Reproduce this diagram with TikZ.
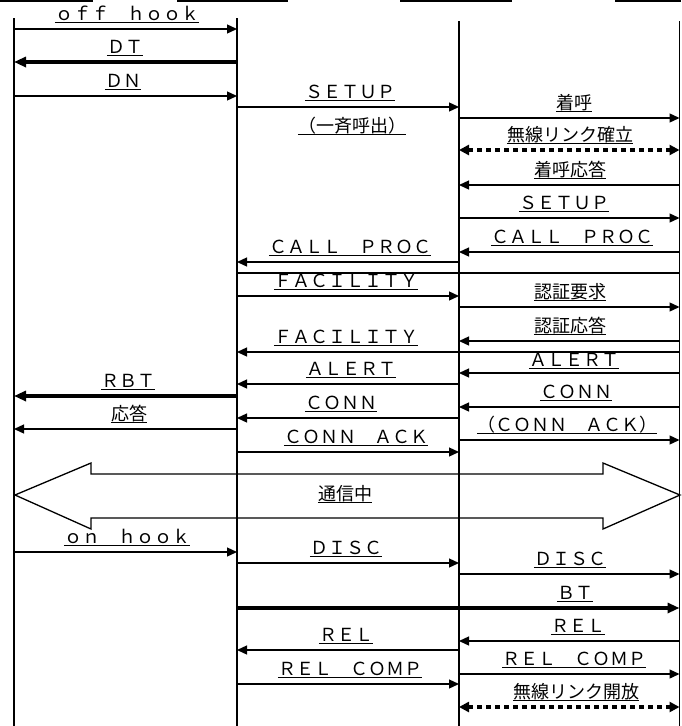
\documentclass[tikz,border=0pt]{standalone}
\usepackage{fontspec}
\newfontfamily\jpfont{Noto Sans CJK JP}
\usetikzlibrary{arrows.meta}
\newcommand\labfont{\jpfont\fontsize{18}{20}\selectfont}
\tikzset{
  life/.style={line width=1.3pt},
  ul/.style={draw,line width=0.9pt,-},
  lab/.style={inner sep=0pt, anchor=base, font=\labfont,
    append after command={\pgfextra{\let\LabNode\tikzlastnode}
      ([yshift=-2.3pt]\LabNode.base west) edge[ul] ([yshift=-2.3pt]\LabNode.base east)}},
  ar/.style={line width=1.3pt, -{Triangle[length=10pt,width=9pt]}},
  thk/.style={line width=3.5pt, -{Triangle[length=12pt,width=10pt]}},
  dotsar/.style={line width=3.8pt, dash pattern=on 5pt off 4pt,
    {Triangle[length=10pt,width=10pt]}-{Triangle[length=10pt,width=10pt]}},
  plain/.style={line width=1.3pt},
  bigar/.style={line width=1.3pt, line join=miter},
}
% #1 name, #2 from, #3 to, #4 y, #5 style, #6 label x, #7 text
\newcommand\Msg[7]{%
  \draw[#5] (#2 |- 0,#4) -- (#3 |- 0,#4);
  \node[lab] (#1) at (#6,#4-8.5) {#7};
}
\begin{document}
\begin{tikzpicture}[x=1pt,y=-1pt]
\useasboundingbox (0,0) rectangle (681,726);
% header underlines (header text cut off)
\draw[plain] (0,1) -- (93,1);
\draw[plain] (177,1) -- (288,1);
\draw[plain] (400,1) -- (512,1);
\draw[plain] (615,1) -- (681,1);
% lifelines
\coordinate (At) at (14,18);  \coordinate (Ab) at (14,726);
\coordinate (Bt) at (237,18); \coordinate (Bb) at (237,726);
\coordinate (Ct) at (459,21); \coordinate (Cb) at (459,726);
\coordinate (Dt) at (679.5,21); \coordinate (Db) at (679.5,726);
\draw[life] (At) -- (Ab);
\draw[life] (Bt) -- (Bb);
\draw[life] (Ct) -- (Cb);
\draw[life] (Dt) -- (Db);
% messages
\Msg{m1}{At}{Bt}{29}{ar}{127}{ｏｆｆ　ｈｏｏｋ}
\Msg{m2}{Bt}{At}{62}{thk}{125}{ＤＴ}
\Msg{m3}{At}{Bt}{96}{ar}{123}{ＤＮ}
\Msg{m4}{Bt}{Ct}{107}{ar}{350}{ＳＥＴＵＰ}
\node[lab] (m4b) at (352,132) {（一斉呼出）};
\Msg{m5}{Ct}{Dt}{118}{ar}{574}{着呼}
\Msg{m6}{Ct}{Dt}{150}{dotsar}{570}{無線リンク確立}
\Msg{m7}{Dt}{Ct}{185}{ar}{570}{着呼応答}
\Msg{m8}{Ct}{Dt}{218}{ar}{564}{ＳＥＴＵＰ}
\Msg{m9}{Dt}{Ct}{252}{ar}{572}{ＣＡＬＬ　ＰＲＯＣ}
\Msg{m10}{Ct}{Bt}{262}{ar}{350}{ＣＡＬＬ　ＰＲＯＣ}
\draw[plain] (Bt |- 0,273) -- (Dt |- 0,273);
\Msg{m12}{Bt}{Ct}{296}{ar}{346}{ＦＡＣＩＬＩＴＹ}
\Msg{m13}{Ct}{Dt}{307}{ar}{570}{認証要求}
\Msg{m14}{Dt}{Ct}{341}{ar}{570}{認証応答}
\Msg{m15}{Dt}{Bt}{352}{ar}{346}{ＦＡＣＩＬＩＴＹ}
\draw[ar] (Dt |- 0,373) -- (Ct |- 0,373);
\node[lab] (m16) at (574,366) {ＡＬＥＲＴ};
\Msg{m17}{Ct}{Bt}{384}{ar}{351}{ＡＬＥＲＴ}
\Msg{m18}{Bt}{At}{396}{thk}{128}{ＲＢＴ}
\Msg{m19}{Dt}{Ct}{407}{ar}{576}{ＣＯＮＮ}
\Msg{m20}{Ct}{Bt}{418}{ar}{341}{ＣＯＮＮ}
\Msg{m21}{Bt}{At}{429}{ar}{129}{応答}
\Msg{m22}{Ct}{Dt}{440}{ar}{567}{（ＣＯＮＮ　ＡＣＫ）}
\Msg{m23}{Bt}{Ct}{452}{ar}{356}{ＣＯＮＮ　ＡＣＫ}
% big double arrow
\draw[bigar] (15,495) -- (91,463) -- (91,474) -- (603,474) -- (603,463)
  -- (680,495) -- (603,529) -- (603,518) -- (91,518) -- (91,529) -- cycle;
\node[lab] (talk) at (345,500) {通信中};
\Msg{m25}{At}{Bt}{552}{ar}{127}{ｏｎ　ｈｏｏｋ}
\Msg{m26}{Bt}{Ct}{563}{ar}{346}{ＤＩＳＣ}
\Msg{m27}{Ct}{Dt}{574}{ar}{570}{ＤＩＳＣ}
\Msg{m28}{Bt}{Dt}{608}{thk}{575}{ＢＴ}
\Msg{m29}{Dt}{Ct}{641}{ar}{578}{ＲＥＬ}
\Msg{m30}{Ct}{Bt}{650}{ar}{346}{ＲＥＬ}
\Msg{m31}{Ct}{Dt}{674}{ar}{574}{ＲＥＬ　ＣＯＭＰ}
\Msg{m32}{Bt}{Ct}{684}{ar}{350}{ＲＥＬ　ＣＯＭＰ}
\Msg{m33}{Ct}{Dt}{707}{dotsar}{576}{無線リンク開放}
\end{tikzpicture}
\end{document}
